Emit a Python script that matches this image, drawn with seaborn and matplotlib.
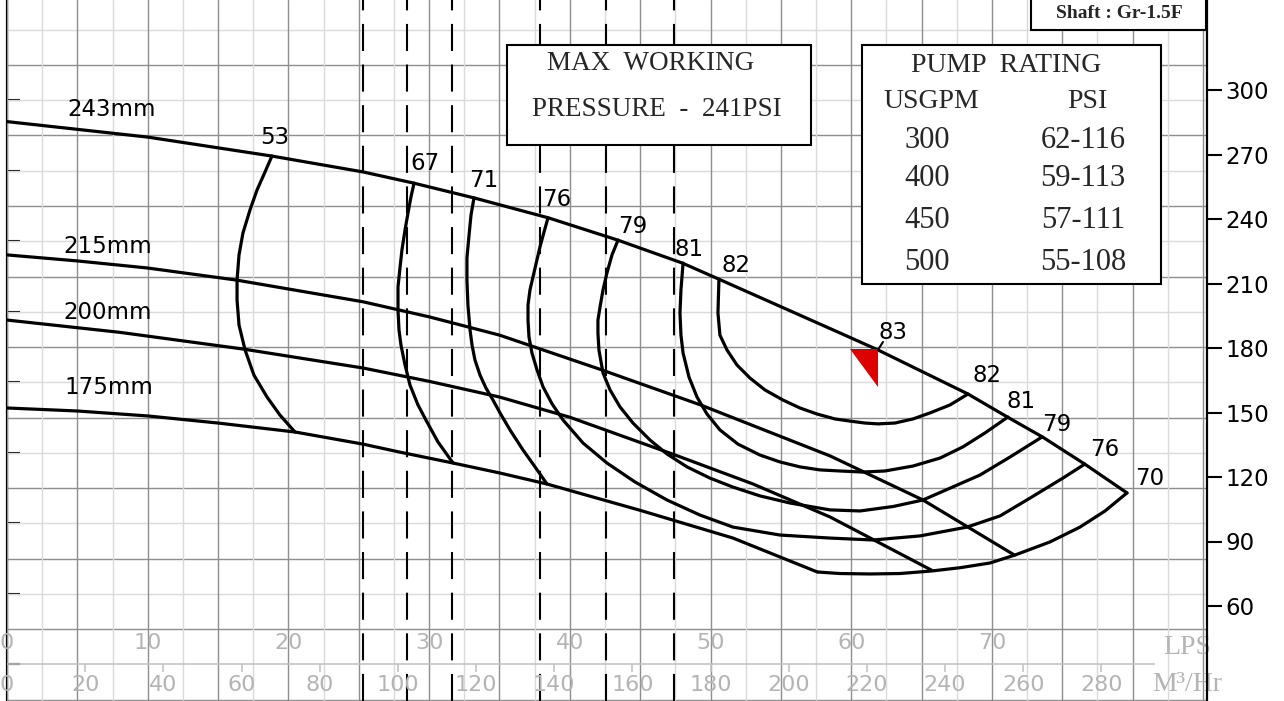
import numpy as np
import pandas as pd
import matplotlib
matplotlib.use("Agg")
import matplotlib.pyplot as plt
from matplotlib.patches import Rectangle
import seaborn as sns

# ---------------- data (flow in LPS, head in ft) ----------------
q_243 = [0, 10.0, 18.8, 25.3, 28.9, 33.2, 38.5, 43.4, 48.0, 50.6, 59.2, 61.9, 68.3, 71.1, 73.6, 76.6, 79.6]
h_243 = [285.3, 278.1, 269.3, 261.9, 256.7, 249.8, 240.5, 230.2, 219.5, 212.0, 187.0, 179.1, 158.6, 147.9, 138.6, 126.0, 112.6]

q_215 = [0, 5.0, 10.0, 16.3, 25.3, 30.0, 35.0, 42.1, 49.3, 58.5, 65.1, 71.6]
h_215 = [223.3, 220.5, 217.2, 211.6, 201.5, 194.5, 186.0, 170.2, 153.5, 129.8, 109.3, 83.7]

q_200 = [0, 8.0, 16.8, 25.3, 30.0, 35.0, 40.0, 47.5, 53.0, 58.5, 65.7]
h_200 = [193.0, 187.3, 179.5, 170.7, 164.5, 157.2, 147.8, 130.2, 116.8, 101.4, 76.7]

q_175 = [0, 5.0, 10.0, 15.0, 20.5, 25.3, 27.9, 31.7, 35.0, 38.4, 45.0, 51.6, 57.6]
h_175 = [152.1, 150.7, 148.4, 145.1, 140.9, 135.3, 131.6, 126.5, 121.9, 116.7, 104.5, 91.6, 75.8]

# iso-efficiency curves
q_e53 = [18.83, 18.34, 17.77, 17.27, 16.77, 16.49, 16.35, 16.35, 16.49, 16.92, 17.55, 18.48, 19.40, 20.47]
h_e53 = [269.3, 261.9, 253.5, 244.2, 233.5, 223.3, 211.6, 202.3, 190.7, 179.1, 167.4, 157.2, 148.8, 140.9]

q_e67 = [28.93, 28.71, 28.5, 28.29, 28.07, 27.93, 27.79, 27.79, 27.86, 28.0, 28.29, 28.64, 29.21, 29.85, 30.63, 31.7]
h_e67 = [256.7, 250.2, 242.8, 234.9, 225.6, 217.2, 208.4, 197.7, 188.4, 181.4, 172.1, 162.8, 153.5, 145.6, 136.3, 126.5]

q_e71 = [33.19, 32.98, 32.84, 32.69, 32.69, 32.76, 32.91, 33.05, 33.26, 33.62, 34.04, 34.54, 35.04, 35.75, 36.67, 37.53, 38.38]
h_e71 = [249.8, 241.9, 232.6, 221.9, 211.6, 200.0, 188.4, 181.4, 174.4, 167.4, 161.4, 155.8, 149.8, 141.9, 132.6, 124.7, 116.7]

q_e76 = [38.45, 38.17, 37.88, 37.53, 37.17, 37.03, 37.03, 37.1, 37.31, 37.67, 38.1, 38.74, 39.52, 40.94,
         42.64, 44.63, 46.91, 49.25, 51.6, 54.94, 58.49, 61.55, 64.89, 68.23, 70.58, 72.71, 75.05, 76.6]
h_e76 = [240.5, 234.0, 227.0, 217.2, 207.0, 200.0, 193.0, 185.1, 177.7, 169.8, 161.9, 154.0, 146.5, 135.8,
         126.5, 117.7, 109.3, 102.3, 96.7, 93.0, 91.6, 90.7, 92.6, 96.7, 101.9, 110.2, 119.5, 126.0]

q_e79 = [43.43, 43.0, 42.64, 42.36, 42.15, 42.0, 42.0, 42.07, 42.36, 42.86, 43.57, 44.49, 45.7, 46.91, 48.33,
         49.96, 51.6, 53.52, 55.65, 58.49, 60.63, 63.0, 65.1, 69.15, 71.29, 73.56]
h_e79 = [230.2, 223.3, 214.9, 207.0, 199.1, 193.0, 187.0, 179.1, 168.4, 160.5, 152.6, 145.1, 137.2, 130.7, 124.7,
         119.5, 115.3, 111.2, 107.9, 104.7, 104.2, 106.3, 109.3, 120.9, 129.3, 138.6]

q_e81 = [48.05, 47.90, 47.83, 47.90, 48.05, 48.47, 49.04, 49.75, 50.67, 51.95, 53.52, 54.94, 56.36, 57.78,
         59.20, 60.84, 62.40, 64.39, 66.31, 67.94, 69.51, 71.14]
h_e81 = [219.5, 207.0, 196.3, 186.0, 177.7, 166.5, 157.2, 149.3, 141.9, 135.3, 130.2, 127.0, 124.7, 123.3,
         122.8, 122.3, 122.8, 125.1, 128.8, 134.0, 140.5, 147.9]

q_e82 = [50.6, 50.53, 50.67, 51.17, 51.88, 52.81, 53.87, 55.15, 56.36, 57.57, 58.85, 59.91, 60.98, 61.9,
         63.11, 64.39, 65.6, 67.02, 68.3]
h_e82 = [212.0, 196.3, 186.0, 179.1, 172.1, 166.0, 160.5, 155.8, 152.1, 149.3, 147.0, 146.0, 145.1, 144.7,
         145.1, 147.0, 149.8, 153.5, 158.6]

q_e70 = [57.64, 59.2, 61.34, 63.47, 65.74, 67.73, 69.86, 71.64, 74.13, 76.26, 78.04, 79.6]
h_e70 = [75.8, 75.1, 74.9, 75.1, 76.3, 77.8, 80.0, 83.7, 89.8, 96.7, 104.2, 112.6]

# impeller labels
dia_labels = ["243mm", "215mm", "200mm", "175mm"]
dia_label_q = [7.43, 7.18, 7.18, 7.25]
dia_label_h = [290.7, 227.0, 196.7, 161.4]

# efficiency labels
eff_labels = ["53", "67", "71", "76", "79", "81", "82", "83", "82", "81", "79", "76", "70"]
eff_label_q = [19.0, 29.7, 33.9, 39.1, 44.5, 48.5, 51.8, 63.0, 69.65, 72.1, 74.6, 78.0, 81.2]
eff_label_h = [277.7, 266.0, 257.7, 249.3, 236.7, 225.6, 218.6, 187.4, 167.4, 154.9, 144.2, 132.6, 119.5]

# best efficiency marker (triangle)
bep_q = [59.91, 61.9, 61.9]
bep_h = [179.5, 179.5, 161.9]

# dashed rating lines (LPS)
rating_lps = [25.3, 28.4, 31.6, 37.9, 42.6, 47.4]

# axes
head_ticks_ft = [60, 90, 120, 150, 180, 210, 240, 270, 300]
head_ticks_m = [10, 20, 30, 40, 50, 60, 70, 80, 90]
lps_labels = [0, 10, 20, 30, 40, 50, 60, 70]
m3h_labels = [0, 20, 40, 60, 80, 100, 120, 140, 160, 180, 200, 220, 240, 260, 280]

# rating table
rating_gpm = ["300", "400", "450", "500"]
rating_psi = ["62-116", "59-113", "57-111", "55-108"]

FT_PER_M = 3.28084
LPS_PER_M3H = 1 / 3.6

# ---------------- figure ----------------
sns.set_theme(style="white")
plt.rcParams["font.family"] = ["DejaVu Sans"]

W, H = 1284, 701
fig = plt.figure(figsize=(W / 100, H / 100), dpi=100)
ax = fig.add_axes([7 / W, 0, 1200 / W, 1])
ax.set_xlim(0, 1200 / 14.07)
ax.set_ylim(34 / 2.15, 735 / 2.15)

# grid
ax.set_axisbelow(True)
ax.set_xticks(np.arange(0, 86, 5))
ax.set_xticks(np.arange(2.5, 86, 5), minor=True)
ax.tick_params(axis="x", which="both", length=0, labelbottom=False)
ax.grid(which="major", axis="x", color="#8e8e8e", lw=1.0, zorder=0)
ax.grid(which="minor", axis="x", color="#dadada", lw=1.0, zorder=0)
for m in range(5, 100, 10):
    ax.axhline(m * FT_PER_M, color="#8e8e8e", lw=1.0, zorder=0.5)
for m in range(20, 101, 10):
    ax.axhline(m * FT_PER_M, color="#dadada", lw=1.0, zorder=0.5)

# m3/h scale line at bottom
ax.hlines(10 * FT_PER_M, 0, 81.6, color="#c4c4c4", lw=1.2, zorder=0.6)
ax.vlines([v * LPS_PER_M3H for v in m3h_labels[1:]], 10 * FT_PER_M - 3.3, 10 * FT_PER_M,
          color="#c4c4c4", lw=1.2, zorder=0.6)

# dashed rating lines
for q in rating_lps:
    ax.axvline(q, color="black", lw=1.5, dashes=(13, 6.5), zorder=1)

# curves
curves = {
    "243": (q_243, h_243), "215": (q_215, h_215), "200": (q_200, h_200), "175": (q_175, h_175),
    "e53": (q_e53, h_e53), "e67": (q_e67, h_e67), "e71": (q_e71, h_e71), "e76": (q_e76, h_e76),
    "e79": (q_e79, h_e79), "e81": (q_e81, h_e81), "e82": (q_e82, h_e82), "e70": (q_e70, h_e70),
}
rows = []
for name, (qs, hs) in curves.items():
    for i, (q, h) in enumerate(zip(qs, hs)):
        rows.append({"curve": name, "order": i, "q": q, "h": h})
df = pd.DataFrame(rows)
sns.lineplot(data=df, x="q", y="h", units="curve", estimator=None, sort=False,
             color="black", lw=2.3, ax=ax, legend=False, zorder=3,
             solid_joinstyle="round", solid_capstyle="round")
ax.set_xlabel("")
ax.set_ylabel("")

# BEP marker
ax.fill(bep_q, bep_h, color="#dd0000", zorder=4, lw=0)
ax.plot([bep_q[1], 62.26], [179.1, 182.8], color="black", lw=1.5, zorder=4)

# labels
for t, x, y in zip(dia_labels, dia_label_q, dia_label_h):
    ax.text(x, y, t, fontsize=16.5, ha="center", va="center", color="black", zorder=5)
for t, x, y in zip(eff_labels, eff_label_q, eff_label_h):
    ax.text(x, y, t, fontsize=16.5, ha="center", va="center", color="black", zorder=5)

gray = "#b4b4b4"
for v in lps_labels:
    ax.text(v, 42.8, str(v), fontsize=16, color=gray, ha="center", va="center", zorder=2)
for v in m3h_labels:
    ax.text(v * LPS_PER_M3H, 23.3, str(v), fontsize=16, color=gray, ha="center", va="center", zorder=2)
ax.text(83.87, 40.5, "LPS", fontsize=20, color=gray, ha="center", va="center",
        family="Liberation Serif", zorder=2)
ax.text(83.87, 23.3, "M³/Hr", fontsize=20, color=gray, ha="center", va="center",
        family="Liberation Serif", zorder=2)

# spines & ticks
for s in ["top", "bottom", "left"]:
    ax.spines[s].set_visible(False)
ax.spines["right"].set_visible(True)
ax.spines["right"].set_color("black")
ax.spines["right"].set_linewidth(1.6)
ax.yaxis.tick_right()
ax.set_yticks(head_ticks_ft)
ax.set_yticklabels([str(v) for v in head_ticks_ft])
ax.tick_params(axis="y", which="major", direction="out", length=10.5, width=1.5,
               labelsize=16.5, pad=3, right=True, left=False, colors="black")
ax.yaxis.set_minor_locator(matplotlib.ticker.NullLocator())

sec = ax.secondary_yaxis("left", functions=(lambda f: f / FT_PER_M, lambda m: m * FT_PER_M))
sec.set_yticks(head_ticks_m)
sec.tick_params(axis="y", direction="in", length=9.5, width=1.5, labelleft=False, colors="black")
sec.spines["left"].set_linewidth(1.6)
sec.spines["left"].set_color("black")

# boxes
def fbox(x0, y0, x1, y1):
    r = Rectangle((x0 / W, 1 - y1 / H), (x1 - x0) / W, (y1 - y0) / H,
                  transform=fig.transFigure, facecolor="white", edgecolor="black",
                  lw=1.5, zorder=5)
    fig.add_artist(r)

serif = "Liberation Serif"
fbox(507, 45, 811, 145)
fig.text(651 / W, 1 - 64 / H, "MAX  WORKING", fontsize=19.5, family=serif, ha="center", va="center", zorder=6)
fig.text(657 / W, 1 - 110 / H, "PRESSURE  -  241PSI", fontsize=19.5, family=serif, ha="center", va="center", zorder=6)

fbox(862, 45, 1161, 284)
fig.text(1006 / W, 1 - 66 / H, "PUMP  RATING", fontsize=20, family=serif, ha="center", va="center", zorder=6)
fig.text(931 / W, 1 - 101 / H, "USGPM", fontsize=20, family=serif, ha="center", va="center", zorder=6)
fig.text(1087 / W, 1 - 101 / H, "PSI", fontsize=20, family=serif, ha="center", va="center", zorder=6)
row_y = [141, 179, 220, 262]
for g, p, yy in zip(rating_gpm, rating_psi, row_y):
    fig.text(927 / W, 1 - yy / H, g, fontsize=22, family=serif, ha="center", va="center", zorder=6)
    fig.text(1083 / W, 1 - yy / H, p, fontsize=22, family=serif, ha="center", va="center", zorder=6)

fbox(1031, -5, 1206, 30)
fig.text(1119 / W, 1 - 14 / H, "Shaft : Gr-1.5F", fontsize=14, family=serif, weight="bold",
         ha="center", va="center", zorder=6)

fig.savefig("out.png", dpi=100)
